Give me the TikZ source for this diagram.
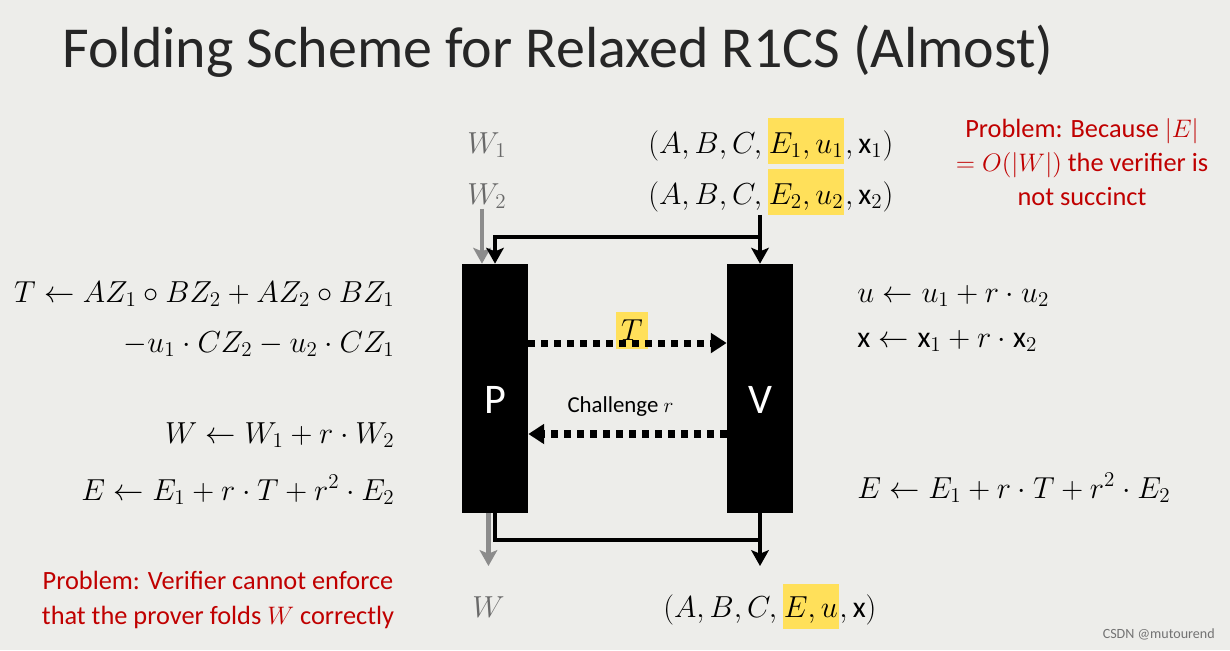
\documentclass[tikz,border=0pt]{standalone}
\usepackage{amsmath}
\usepackage{fontspec}
\setmainfont{Carlito}
\setsansfont{Carlito}
\usetikzlibrary{arrows.meta, positioning}

\definecolor{slidebg}{RGB}{237,237,234}
\definecolor{hilite}{RGB}{255,224,90}
\definecolor{probred}{RGB}{192,0,0}
\definecolor{wgray}{RGB}{105,105,105}
\definecolor{arrowgray}{RGB}{140,140,140}
\newcommand{\vx}{\text{x}}

\begin{document}
\begin{tikzpicture}[x=0.02cm, y=-0.02cm, >={Stealth[length=9pt, width=10pt, inset=2pt]},
  party/.style={fill=black, minimum width=1.32cm, minimum height=4.98cm, inner sep=0pt, text=white, font=\fontsize{24}{28}\selectfont},
  eq/.style={inner sep=0pt, font=\fontsize{17}{20}\selectfont},
  hl/.style={fill=hilite, inner xsep=0.5pt, inner ysep=0pt, text height=20pt, text depth=6pt, font=\fontsize{17}{20}\selectfont},
  wit/.style={inner sep=0pt, text=wgray, font=\fontsize{17}{20}\selectfont},
  note/.style={align=center, text=probred, inner sep=0pt, font=\fontsize{15}{19.5}\selectfont},
  wire/.style={line width=2.4pt},
  graywire/.style={line width=2.8pt, draw=arrowgray},
  msg/.style={line width=4pt, dash pattern=on 4pt off 3.4pt, -{Triangle[length=9pt, width=11pt]}}]

  \fill[slidebg] (0,0) rectangle (1230,650);

  % Title
  \node[anchor=base west, inner sep=0pt, text=black!85, font=\fontsize{33}{38}\selectfont] (title) at (62,67) {Folding Scheme for Relaxed R1CS (Almost)};

  % Instances and witnesses
  \node[wit, anchor=base west] (W1) at (467,153) {$W_1$};
  \node[wit, anchor=base west] (W2) at (467,204) {$W_2$};
  \node[eq, anchor=base west] (t1a) at (648,153) {$(A,B,C,\,$};
  \node[hl, anchor=base west] (t1b) at (t1a.base east) {$E_1,u_1$};
  \node[eq, anchor=base west] (t1c) at (t1b.base east) {$,\vx_1)$};
  \node[eq, anchor=base west] (t2a) at (648,204) {$(A,B,C,\,$};
  \node[hl, anchor=base west] (t2b) at (t2a.base east) {$E_2,u_2$};
  \node[eq, anchor=base west] (t2c) at (t2b.base east) {$,\vx_2)$};

  % Prover and verifier
  \node[party] (P) at (495,388.5) {\raisebox{-14pt}[0pt][0pt]{P}};
  \node[party] (V) at (760,388.5) {\raisebox{-14pt}[0pt][0pt]{V}};

  % Folded instance
  \node[wit, anchor=base west] (Wout) at (472,617) {$W$};
  \node[eq, anchor=base west] (toa) at (663,617) {$(A,B,C,\,$};
  \node[hl, anchor=base west, text height=19pt, text depth=7pt] (tob) at (toa.base east) {$E,u$};
  \node[eq, anchor=base west] (toc) at (tob.base east) {$,\vx)$};

  % Prover side
  \node[eq, anchor=base east] (tdef) at (395,302) {$T \leftarrow AZ_1 \circ BZ_2 + AZ_2 \circ BZ_1$};
  \node[eq, anchor=base east] (tdefb) at (395,352) {$-u_1 \cdot CZ_2 - u_2 \cdot CZ_1$};
  \node[eq, anchor=base east] (wfold) at (395,443) {$W \leftarrow W_1 + r \cdot W_2$};
  \node[eq, anchor=base east] (efoldp) at (395,500) {$E \leftarrow E_1 + r \cdot T + r^2 \cdot E_2$};

  % Verifier side
  \node[eq, anchor=base west] (ufold) at (857,302) {$u \leftarrow u_1 + r \cdot u_2$};
  \node[eq, anchor=base west] (xfold) at (857,347) {$\vx \leftarrow \vx_1 + r \cdot \vx_2$};
  \node[eq, anchor=base west] (efoldv) at (857,498) {$E \leftarrow E_1 + r \cdot T + r^2 \cdot E_2$};

  % Problems
  \node[note] (probv) at (1082,162) {Problem: Because $|E|$\\ $= O(|W|)$ the verifier is\\ not succinct};
  \node[note] (probp) at (218,600) {Problem: Verifier cannot enforce\\ that the prover folds $W$ correctly};

  % Inputs
  \coordinate (split) at (760,237);
  \coordinate (outlvl) at (0,566);
  \draw[graywire, ->] ([xshift=-0.1cm]W2.south) -- ([xshift=-0.1cm]W2.south |- P.north);
  \draw[wire, ->] (V.north |- t2b.south) -- (V.north);
  \draw[wire, ->] (split) -| (P.north);

  % Messages
  \node[hl, anchor=base, text height=16pt, text depth=5pt, inner xsep=3pt] (tmsg) at (632,340) {$T$};
  \draw[msg] ([yshift=0.91cm]P.east) -- ([yshift=0.91cm]V.west);
  \draw[msg] ([yshift=-0.91cm]V.west) -- node[above=0.16cm, font=\fontsize{13}{15}\selectfont, xshift=-0.14cm] {Challenge $r$} ([yshift=-0.91cm]P.east);

  % Outputs
  \coordinate (merge) at (760,540);
  \draw[graywire, ->] (P.south -| Wout) -- (Wout |- outlvl);
  \draw[wire] (P.south) |- (merge);
  \draw[wire, ->] (V.south) -- (V.south |- outlvl);

  \node[anchor=base east, inner sep=0pt, text=black!55, font=\fontsize{8}{9}\selectfont] (mark) at (1215,638) {CSDN @mutourend};
\end{tikzpicture}
\end{document}
